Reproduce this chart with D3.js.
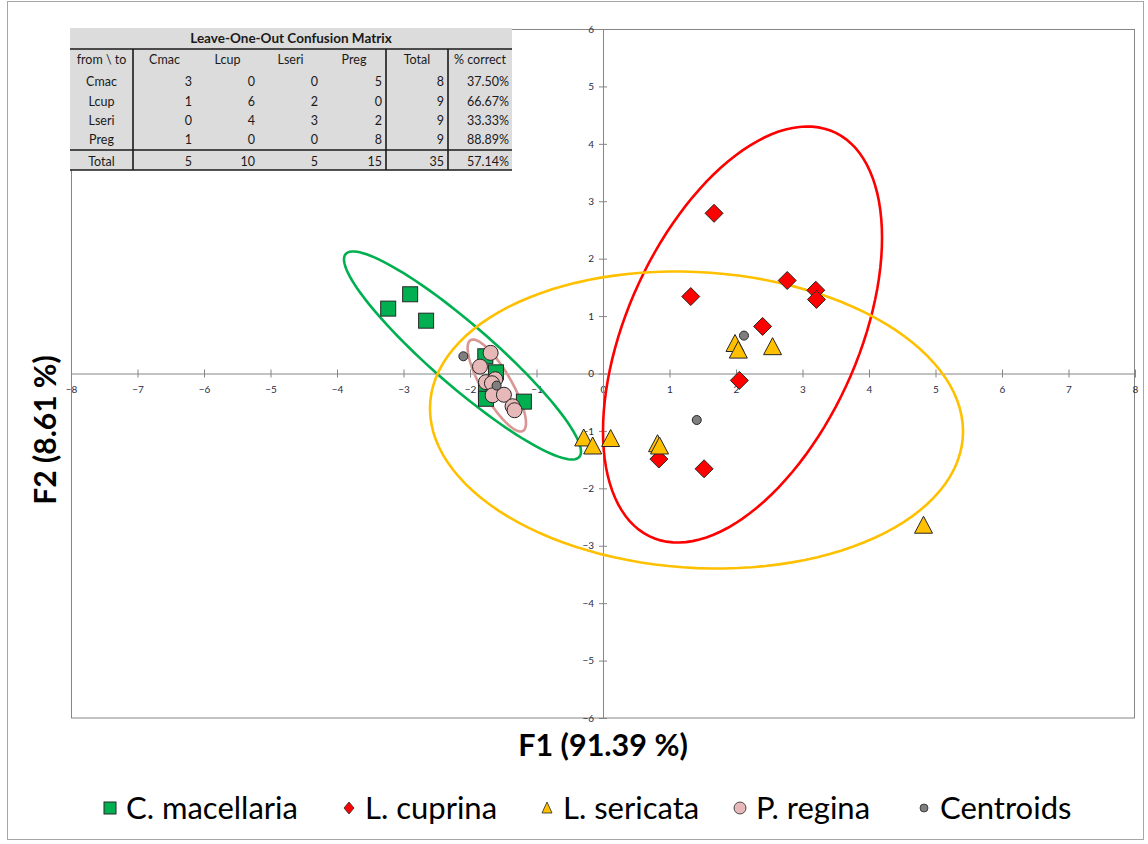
<!DOCTYPE html>
<html><head><meta charset="utf-8">
<script src="https://cdn.jsdelivr.net/npm/d3@7"></script>
<style>
html,body{margin:0;padding:0;background:#fff;}
svg{display:block;font-family:Lato,"Open Sans",sans-serif;}
</style></head>
<body><svg id="chart" width="1148" height="844"></svg>
<script>
// ---------- data ----------
const cmacF1 = [-3.23, -2.90, -2.66, -1.77, -1.61, -1.76, -1.76, -1.19];
const cmacF2 = [1.13, 1.38, 0.92, 0.30, 0.02, -0.31, -0.44, -0.49];
const lcupF1 = [1.67, 2.77, 3.20, 3.21, 2.40, 2.05, 1.32, 0.84, 1.52];
const lcupF2 = [2.79, 1.62, 1.45, 1.29, 0.82, -0.12, 1.34, -1.49, -1.66];
const lseriF1 = [-0.29, -0.155, 0.115, 0.82, 0.85, 1.985, 2.035, 2.55, 4.82];
const lseriF2 = [-1.14, -1.28, -1.15, -1.24, -1.28, 0.505, 0.39, 0.45, -2.66];
const pregF1 = [-1.69, -1.85, -1.76, -1.62, -1.67, -1.66, -1.49, -1.36, -1.33];
const pregF2 = [0.36, 0.12, -0.15, -0.10, -0.17, -0.38, -0.37, -0.57, -0.64];
const centroidF1 = [-2.10, -1.60, 1.41, 2.12];
const centroidF2 = [0.30, -0.21, -0.81, 0.66];

// confidence ellipses: centre, and two conjugate semi-axis vectors (data units)
const ellipseNames = ["C. macellaria", "L. cuprina", "L. sericata", "P. regina"];
const ellipseCentre = [[-2.113, 0.314], [2.098, 0.679], [1.406, -0.81], [-1.597, -0.209]];
const ellipseAxisA = [[1.782, -1.674], [2.098, 1.686], [4.008, -0.200], [0.439, -0.653]];
const ellipseAxisB = [[0, -0.693], [0, 3.207], [0, -2.579], [0, -0.463]];

const xTicks = d3.range(-8, 9, 1);
const yTicks = d3.range(-6, 7, 1);

const tableTitle = "Leave-One-Out Confusion Matrix";
const tableHeader = ["from \\ to", "Cmac", "Lcup", "Lseri", "Preg", "Total", "% correct"];
const tableRowLabels = ["Cmac", "Lcup", "Lseri", "Preg"];
const tableCounts = [[3, 0, 0, 5], [1, 6, 2, 0], [0, 4, 3, 2], [1, 0, 0, 8]];
const tableTotals = [8, 9, 9, 9];
const tablePct = ["37.50%", "66.67%", "33.33%", "88.89%"];
const tableColTotals = [5, 10, 5, 15];
const tableGrandTotal = 35;
const tableGrandPct = "57.14%";

const legendLabels = ["C. macellaria", "L. cuprina", "L. sericata", "P. regina", "Centroids"];

// ---------- styles ----------
const fillC = {cmac: "#00B050", lcup: "#FF0000", lseri: "#FFC000", preg: "#E6B9B8", cent: "#7F7F7F"};
const ellipseColors = ["#00B050", "#FF0000", "#FFC000", "#D99694"];

const svg = d3.select("#chart");
svg.append("rect").attr("x", 7.5).attr("y", 1.5).attr("width", 1136).attr("height", 838)
  .attr("fill", "#fff").attr("stroke", "#A6A6A6");

const x = d3.scaleLinear().domain([-8, 8]).range([71, 1135]);
const y = d3.scaleLinear().domain([-6, 6]).range([718, 29]);

// plot area border
svg.append("rect").attr("x", 71.5).attr("y", 29.5).attr("width", 1063).attr("height", 688.5)
  .attr("fill", "none").attr("stroke", "#868686");

// axes through origin
const axColor = "#868686";
const xAxis = svg.append("g").attr("transform", `translate(0,${y(0)})`)
  .call(d3.axisBottom(x).tickValues(xTicks).tickSize(4).tickSizeOuter(0).tickFormat(d3.format("d")));
xAxis.selectAll(".tick line").attr("y1", -4).attr("stroke", axColor);
xAxis.selectAll(".tick text").attr("y", 12).attr("font-size", 10).attr("fill", "#2b2b44")
  .attr("font-family", "Lato, sans-serif");
xAxis.select(".domain").attr("stroke", axColor);

const yAxis = svg.append("g").attr("transform", `translate(${x(0)},0)`)
  .call(d3.axisLeft(y).tickValues(yTicks).tickSize(4).tickSizeOuter(0).tickFormat(d3.format("d")));
yAxis.selectAll(".tick line").attr("x1", 4).attr("stroke", axColor);
yAxis.selectAll(".tick text").attr("x", -9).attr("font-size", 10).attr("fill", "#2b2b44")
  .attr("font-family", "Lato, sans-serif");
yAxis.select(".domain").attr("stroke", axColor);

// ellipses
const tSteps = d3.range(0, 361, 3).map(d => d * Math.PI / 180);
const line = d3.line().x(d => x(d[0])).y(d => y(d[1])).curve(d3.curveLinearClosed);
ellipseNames.forEach((n, i) => {
  const c = ellipseCentre[i], a = ellipseAxisA[i], b = ellipseAxisB[i];
  const pts = tSteps.map(t => [c[0] + a[0] * Math.cos(t) + b[0] * Math.sin(t),
                               c[1] + a[1] * Math.cos(t) + b[1] * Math.sin(t)]);
  svg.append("path").attr("d", line(pts)).attr("fill", "none")
    .attr("stroke", ellipseColors[i]).attr("stroke-width", 2.6);
});

const mStroke = "#262626";
function zip(a, b) { return a.map((v, i) => [v, b[i]]); }

// markers
const sq = 15;
svg.append("g").selectAll("rect").data(zip(cmacF1, cmacF2)).join("rect")
  .attr("x", d => x(d[0]) - sq / 2).attr("y", d => y(d[1]) - sq / 2)
  .attr("width", sq).attr("height", sq).attr("fill", fillC.cmac).attr("stroke", mStroke).attr("stroke-width", 1);

svg.append("g").selectAll("path").data(zip(lcupF1, lcupF2)).join("path")
  .attr("d", "M0,-9L9,0L0,9L-9,0Z")
  .attr("transform", d => `translate(${x(d[0])},${y(d[1])})`)
  .attr("fill", fillC.lcup).attr("stroke", mStroke).attr("stroke-width", 1);

svg.append("g").selectAll("path").data(zip(lseriF1, lseriF2)).join("path")
  .attr("d", "M0,-10L9,7L-9,7Z")
  .attr("transform", d => `translate(${x(d[0])},${y(d[1])})`)
  .attr("fill", fillC.lseri).attr("stroke", mStroke).attr("stroke-width", 1);

svg.append("g").selectAll("circle").data(zip(pregF1, pregF2)).join("circle")
  .attr("cx", d => x(d[0])).attr("cy", d => y(d[1])).attr("r", 7.5)
  .attr("fill", fillC.preg).attr("stroke", mStroke).attr("stroke-width", 1);

svg.append("g").selectAll("circle").data(zip(centroidF1, centroidF2)).join("circle")
  .attr("cx", d => x(d[0])).attr("cy", d => y(d[1])).attr("r", 4.5)
  .attr("fill", fillC.cent).attr("stroke", mStroke).attr("stroke-width", 1);

// axis titles
svg.append("text").attr("x", 603).attr("y", 756).attr("text-anchor", "middle")
  .attr("font-size", 30.5).attr("font-weight", "bold").attr("fill", "#000").text("F1 (91.39 %)");
svg.append("text").attr("transform", "translate(56,430) rotate(-90)").attr("text-anchor", "middle")
  .attr("font-size", 30).attr("font-weight", "bold").attr("fill", "#000").text("F2 (8.61 %)");

// confusion-matrix table
const colEdges = [70, 133, 196, 259, 322, 386, 448, 512];
const rowCentres = [81, 101, 120, 139];
const tb = svg.append("g").attr("font-size", 12.5).attr("fill", "#1a1a1a");
tb.append("rect").attr("x", 70).attr("y", 28).attr("width", 442).attr("height", 142).attr("fill", "#DCDCDC");
tb.append("text").attr("x", (70 + 512) / 2).attr("y", 43).attr("text-anchor", "middle")
  .attr("font-size", 13.5).attr("font-weight", "bold").text(tableTitle);
tableHeader.forEach((h, i) => {
  tb.append("text").attr("x", (colEdges[i] + colEdges[i + 1]) / 2).attr("y", 64)
    .attr("text-anchor", "middle").text(h);
});
tableRowLabels.forEach((r, ri) => {
  const yy = rowCentres[ri] + 4.5;
  tb.append("text").attr("x", (colEdges[0] + colEdges[1]) / 2).attr("y", yy).attr("text-anchor", "middle").text(r);
  tableCounts[ri].forEach((v, ci) => {
    tb.append("text").attr("x", colEdges[ci + 2] - 4).attr("y", yy).attr("text-anchor", "end").text(v);
  });
  tb.append("text").attr("x", colEdges[6] - 4).attr("y", yy).attr("text-anchor", "end").text(tableTotals[ri]);
  tb.append("text").attr("x", colEdges[7] - 3).attr("y", yy).attr("text-anchor", "end").text(tablePct[ri]);
});
{
  const yy = 165.5;
  tb.append("text").attr("x", (colEdges[0] + colEdges[1]) / 2).attr("y", yy).attr("text-anchor", "middle").text("Total");
  tableColTotals.forEach((v, ci) => {
    tb.append("text").attr("x", colEdges[ci + 2] - 4).attr("y", yy).attr("text-anchor", "end").text(v);
  });
  tb.append("text").attr("x", colEdges[6] - 4).attr("y", yy).attr("text-anchor", "end").text(tableGrandTotal);
  tb.append("text").attr("x", colEdges[7] - 3).attr("y", yy).attr("text-anchor", "end").text(tableGrandPct);
}
const tl = tb.append("g").attr("stroke", "#1a1a1a").attr("stroke-width", 1.6);
tl.append("line").attr("x1", 70).attr("x2", 512).attr("y1", 49).attr("y2", 49);
tl.append("line").attr("x1", 70).attr("x2", 512).attr("y1", 150).attr("y2", 150);
tl.append("line").attr("x1", 70).attr("x2", 512).attr("y1", 170).attr("y2", 170);
[133, 386, 448].forEach(xx => tl.append("line").attr("x1", xx).attr("x2", xx).attr("y1", 49).attr("y2", 170));

// legend
const legX = [110, 349, 547, 740, 924];
const legY = 808;
const lg = svg.append("g");
legendLabels.forEach((lab, i) => {
  const cx = legX[i];
  if (i === 0) lg.append("rect").attr("x", cx - 6).attr("y", legY - 6).attr("width", 12).attr("height", 12)
    .attr("fill", fillC.cmac).attr("stroke", mStroke);
  if (i === 1) lg.append("path").attr("d", "M0,-6L5,0L0,6L-5,0Z").attr("transform", `translate(${cx},${legY})`)
    .attr("fill", fillC.lcup).attr("stroke", mStroke).attr("stroke-width", 0.8);
  if (i === 2) lg.append("path").attr("d", "M0,-6L5,5L-5,5Z").attr("transform", `translate(${cx},${legY})`)
    .attr("fill", fillC.lseri).attr("stroke", mStroke).attr("stroke-width", 0.8);
  if (i === 3) lg.append("circle").attr("cx", cx).attr("cy", legY).attr("r", 6)
    .attr("fill", fillC.preg).attr("stroke", mStroke).attr("stroke-width", 0.8);
  if (i === 4) lg.append("circle").attr("cx", cx).attr("cy", legY).attr("r", 4)
    .attr("fill", fillC.cent).attr("stroke", mStroke).attr("stroke-width", 0.8);
  lg.append("text").attr("x", cx + 16).attr("y", legY + 11).attr("font-size", 31).attr("fill", "#000").text(lab);
});
</script></body></html>
